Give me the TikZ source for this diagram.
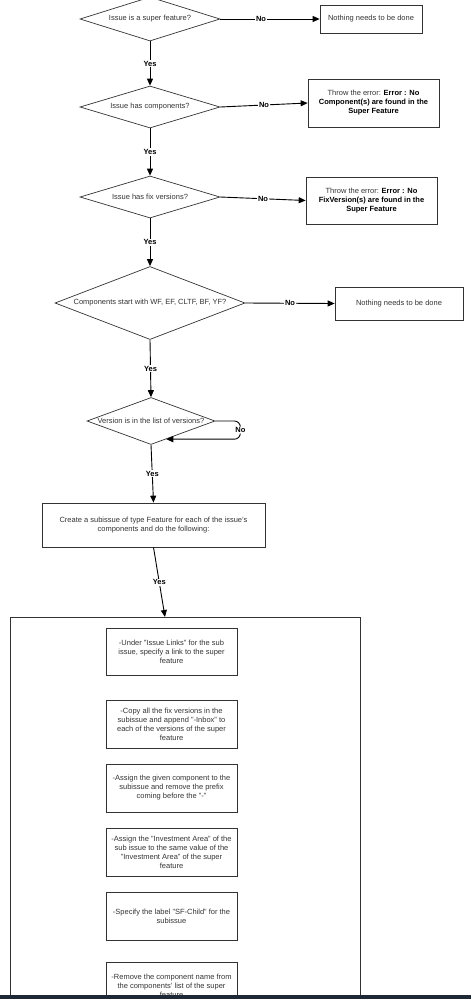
\documentclass[tikz,border=0pt]{standalone}
\usepackage{fontspec}
\setmainfont{Liberation Sans}
\usetikzlibrary{arrows.meta,shapes.geometric}
\definecolor{barcol}{RGB}{31,41,53}

\begin{document}
\begin{tikzpicture}[x=1pt, y=-1pt, >={Triangle[length=7pt,width=6pt]},
	every node/.style={font=\fontsize{7.5}{9}\selectfont, text=black!80},
	decision/.style={diamond, draw=black!80, line width=0.7pt, inner sep=0pt},
	action/.style={rectangle, draw=black!80, line width=0.7pt, align=center, inner sep=2pt},
	flow/.style={->, line width=0.9pt},
	lbl/.style={fill=white, inner sep=1pt, text=black, font=\fontsize{7.5}{9}\selectfont\bfseries}]
			\useasboundingbox (0,0) rectangle (471,999);
			\node[decision, minimum width=140, minimum height=44, label=center:{Issue is a super feature?}] (d1) at (150,19) {};
			\node[action, minimum width=102, minimum height=28] (none1) at (371,19) {Nothing needs to be done};
			\node[decision, minimum width=140, minimum height=42, label=center:{Issue has components?}] (d2) at (150,107) {};
			\node[action, minimum width=131, minimum height=48] (err1) at (373.5,103) {Throw the error: \textbf{\color{black}Error : No}\\ \textbf{\color{black}Component(s) are found in the}\\ \textbf{\color{black}Super Feature}};
			\node[decision, minimum width=140, minimum height=42, label=center:{Issue has fix versions?}] (d3) at (150,197) {};
			\node[action, minimum width=131, minimum height=47] (err2) at (371.5,200.5) {Throw the error: \textbf{\color{black}Error : No}\\ \textbf{\color{black}FixVersion(s) are found in the}\\ \textbf{\color{black}Super Feature}};
			\node[decision, minimum width=190, minimum height=73, label=center:{Components start with WF, EF, CLTF, BF, YF?}] (d4) at (150,303) {};
			\node[action, minimum width=128, minimum height=33] (none2) at (399,303.5) {Nothing needs to be done};
			\node[decision, minimum width=128, minimum height=47, label=center:{Version is in the list of versions?}] (d5) at (151,421) {};
			\node[action, minimum width=223, minimum height=44] (create) at (153.5,525) {Create a subissue of type Feature for each of the issue's\\ components and do the following:};
			\node[action, minimum width=350, minimum height=420] (group) at (185,827) {};
			\coordinate (gtop) at (165,617);
			\node[action, minimum width=131, minimum height=47] (s1) at (171.5,652) {-Under "Issue Links" for the sub\\ issue, specify a link to the super\\ feature};
			\node[action, minimum width=131, minimum height=48] (s2) at (171.5,724) {-Copy all the fix versions in the\\ subissue and append "-Inbox" to\\ each of the versions of the super\\ feature};
			\node[action, minimum width=131, minimum height=48] (s3) at (171.5,788) {-Assign the given component to the\\ subissue and remove the prefix\\ coming before the "-"};
			\node[action, minimum width=131, minimum height=48] (s4) at (171.5,852) {-Assign the "Investment Area" of the\\ sub issue to the same value of the\\ "Investment Area" of the super\\ feature};
			\node[action, minimum width=131, minimum height=48] (s5) at (171.5,916) {-Specify the label "SF-Child" for the\\ subissue};
			\node[action, minimum width=131, minimum height=48] (s6) at (171.5,986) {-Remove the component name from\\ the components' list of the super\\ feature};
			\draw[flow] (d1.east) -- node[lbl, pos=0.41] {No} (none1.west);
			\draw[flow] (d1.south) -- node[lbl] {Yes} (d2.north);
			\draw[flow] (d2.east) -- node[lbl] {No} (err1.west);
			\draw[flow] (d2.south) -- node[lbl] {Yes} (d3.north);
			\draw[flow] (d3.east) -- node[lbl] {No} (err2.west);
			\draw[flow] (d3.south) -- node[lbl] {Yes} (d4.north);
			\draw[flow] (d4.east) -- node[lbl] {No} (none2.west);
			\draw[flow] (d4.south) -- node[lbl] {Yes} (d5.north);
			\draw[flow, rounded corners=6pt] (d5.east) -- ++(25,0) |- node[lbl, pos=0.25] {No} (d5.-50);
			\draw[flow] (d5.south) -- node[lbl] {Yes} (create.north);
			\draw[flow] (create.south) -- node[lbl] {Yes} (gtop);
			\fill[barcol] (0,995) rectangle (471,999);
	\end{tikzpicture}
\end{document}
